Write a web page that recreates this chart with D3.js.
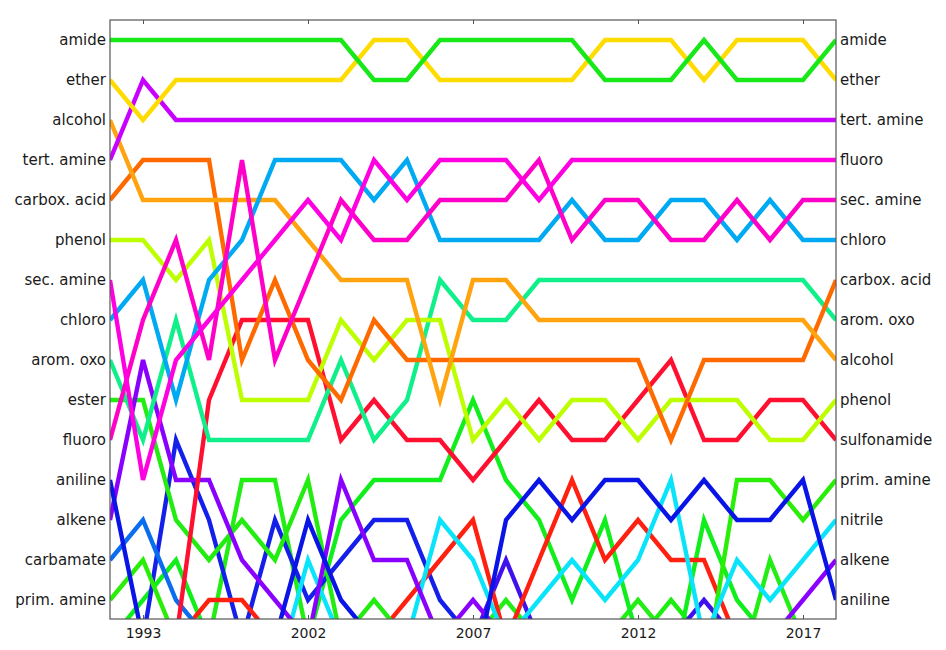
<!DOCTYPE html>
<html>
<head>
<meta charset="utf-8">
<script src="https://cdn.jsdelivr.net/npm/d3@7"></script>
<style>
    body { margin: 0; background: #ffffff; }
    svg text { font-family: "DejaVu Sans", sans-serif; fill: #1a1a1a; }
</style>
</head>
<body>
<svg id="svg-bump"></svg>
<script>
/* Functional group ranking per period (bump chart) */

// Periods along the x axis, only some of them get a tick label
const periods = ['1992', '1993', '1995', '1997', '1998', '2000', '2002', '2003', '2004', '2005', '2006',
    '2007', '2008', '2009', '2010', '2011', '2012', '2013', '2014', '2015', '2016', '2017', '2018'];
const tickYears = ['1993', '2002', '2007', '2012', '2017'];

// Rank labels on both sides (rank 1 at top)
const leftLabels = ['amide', 'ether', 'alcohol', 'tert. amine', 'carbox. acid', 'phenol', 'sec. amine',
    'chloro', 'arom. oxo', 'ester', 'fluoro', 'aniline', 'alkene', 'carbamate', 'prim. amine'];
const rightLabels = ['amide', 'ether', 'tert. amine', 'fluoro', 'sec. amine', 'chloro', 'carbox. acid',
    'arom. oxo', 'alcohol', 'phenol', 'sulfonamide', 'prim. amine', 'nitrile', 'alkene', 'aniline'];

// Ranks per period (values above 15 fall below the plot)
const amide       = [1, 1, 1, 1, 1, 1, 1, 1, 2, 2, 1, 1, 1, 1, 1, 2, 2, 2, 1, 2, 2, 2, 1];
const ether       = [2, 3, 2, 2, 2, 2, 2, 2, 1, 1, 2, 2, 2, 2, 2, 1, 1, 1, 2, 1, 1, 1, 2];
const alcohol     = [3, 5, 5, 5, 5, 5, 6, 7, 7, 7, 10, 7, 7, 8, 8, 8, 8, 8, 8, 8, 8, 8, 9];
const tertAmine   = [4, 2, 3, 3, 3, 3, 3, 3, 3, 3, 3, 3, 3, 3, 3, 3, 3, 3, 3, 3, 3, 3, 3];
const carboxAcid  = [5, 4, 4, 4, 9, 7, 9, 10, 8, 9, 9, 9, 9, 9, 9, 9, 9, 11, 9, 9, 9, 9, 7];
const phenol      = [6, 6, 7, 6, 10, 10, 10, 8, 9, 8, 8, 11, 10, 11, 10, 10, 11, 10, 10, 10, 11, 11, 10];
const secAmine    = [7, 12, 9, 8, 7, 6, 5, 6, 4, 5, 4, 4, 4, 5, 4, 4, 4, 4, 4, 4, 4, 4, 4];
const chloro      = [8, 7, 10, 7, 6, 4, 4, 4, 5, 4, 6, 6, 6, 6, 5, 6, 6, 5, 5, 6, 5, 6, 6];
const aromOxo     = [9, 11, 8, 11, 11, 11, 11, 9, 11, 10, 7, 8, 8, 7, 7, 7, 7, 7, 7, 7, 7, 7, 8];
const ester       = [10, 10, 13, 14, 13, 14, 12, 16, 15, 16, 17, 17, 17, 17, 17, 17, 17, 17, 17, 17, 17, 17, 17];
const fluoro      = [11, 8, 6, 9, 4, 9, 7, 5, 6, 6, 5, 5, 5, 4, 6, 5, 5, 6, 6, 5, 6, 5, 5];
const aniline     = [12, 16, 17, 17, 17, 16, 13, 15, 16, 17, 17, 17, 13, 12, 13, 12, 12, 13, 12, 13, 13, 12, 15];
const alkene      = [13, 9, 12, 12, 14, 15, 16, 12, 14, 14, 16, 15, 16, 17, 17, 17, 17, 17, 17, 17, 16, 15, 14];
const carbamate   = [14, 13, 15, 16, 17, 17, 17, 17, 17, 17, 17, 17, 17, 17, 17, 17, 17, 17, 17, 17, 17, 17, 17];
const primAmine   = [15, 14, 16, 17, 17, 17, 17, 17, 17, 17, 17, 17, 17, 17, 17, 17, 17, 17, 17, 12, 12, 13, 12];
const sulfonamide = [18, 17, 16, 10, 8, 8, 8, 11, 10, 11, 11, 12, 11, 10, 11, 11, 10, 9, 11, 11, 10, 10, 11];
const nitrile     = [18, 18, 18, 18, 18, 17, 14, 16, 17, 16, 13, 14, 16, 15, 14, 15, 14, 12, 16, 14, 15, 14, 13];
const otherRed    = [18, 17, 16, 15, 15, 16, 17, 17, 16, 15, 14, 13, 16, 14, 12, 14, 13, 14, 14, 16, 17, 17, 17];
const otherBlue   = [17, 16, 11, 13, 16, 13, 15, 14, 13, 13, 15, 16, 17, 17, 17, 17, 17, 17, 17, 17, 17, 17, 17];
const otherIndigo = [18, 18, 18, 18, 18, 18, 18, 18, 18, 18, 17, 16, 14, 16, 17, 17, 17, 16, 15, 16, 17, 17, 17];
const otherGreenA = [16, 15, 14, 16, 17, 17, 16, 13, 12, 12, 12, 10, 12, 13, 15, 13, 16, 17, 13, 15, 16, 17, 17];
const otherGreenB = [17, 17, 17, 16, 12, 12, 16, 17, 17, 17, 17, 16, 15, 16, 17, 16, 15, 16, 17, 17, 14, 16, 17];
const otherGreenC = [18, 18, 18, 18, 18, 18, 18, 18, 18, 18, 18, 18, 18, 18, 18, 17, 16, 15, 16, 17, 17, 17, 17];

(function() {
    'use strict';

    const width = 946;
    const height = 650;
    const plot = { left: 110, right: 836, top: 20, bottom: 619 };

    // line colours, keyed like the series list below
    const colors = {
        amide: '#18e818', ether: '#ffdc00', alcohol: '#ffa30f', tertAmine: '#c800ff',
        carboxAcid: '#ff6a00', phenol: '#bdff00', secAmine: '#ff00e0', chloro: '#00aaf2',
        aromOxo: '#10f08a', ester: '#22ec10', fluoro: '#ff00c8', aniline: '#0a14e6',
        alkene: '#8a00ff', carbamate: '#0a6cee', primAmine: '#2aee08', sulfonamide: '#ff1030',
        nitrile: '#0ae4fa', otherRed: '#ff2010', otherBlue: '#1420ea', otherIndigo: '#4010ee',
        otherGreenA: '#10ee1c', otherGreenB: '#22ee14', otherGreenC: '#1cee10'
    };

    const series = [
        ['otherGreenC', otherGreenC], ['otherGreenB', otherGreenB], ['otherGreenA', otherGreenA],
        ['otherIndigo', otherIndigo], ['otherBlue', otherBlue], ['otherRed', otherRed],
        ['carbamate', carbamate], ['primAmine', primAmine], ['ester', ester], ['nitrile', nitrile],
        ['alkene', alkene], ['aniline', aniline], ['sulfonamide', sulfonamide], ['aromOxo', aromOxo],
        ['phenol', phenol], ['carboxAcid', carboxAcid], ['alcohol', alcohol], ['chloro', chloro],
        ['fluoro', fluoro], ['secAmine', secAmine], ['tertAmine', tertAmine], ['ether', ether],
        ['amide', amide]
    ].map(([key, ranks]) => ({ key, ranks }));

    const svg = d3.select('#svg-bump')
        .attr('width', width)
        .attr('height', height);

    // Scales
    const xScale = d3.scalePoint()
        .domain(periods)
        .range([plot.left, plot.right]);

    const yScale = d3.scaleLinear()
        .domain([0.5, 15.5])
        .range([20, 620]);

    svg.append('clipPath')
        .attr('id', 'plot-clip')
        .append('rect')
        .attr('x', plot.left)
        .attr('y', plot.top)
        .attr('width', plot.right - plot.left)
        .attr('height', plot.bottom - plot.top);

    const line = d3.line()
        .x((d, i) => xScale(periods[i]))
        .y(d => yScale(d));

    // Draw lines
    svg.append('g')
        .attr('clip-path', 'url(#plot-clip)')
        .selectAll('path')
        .data(series)
        .enter()
        .append('path')
        .attr('fill', 'none')
        .attr('stroke', d => colors[d.key])
        .attr('stroke-width', 4.4)
        .attr('stroke-linejoin', 'miter')
        .attr('d', d => line(d.ranks));

    // Frame
    svg.append('rect')
        .attr('x', plot.left)
        .attr('y', plot.top)
        .attr('width', plot.right - plot.left)
        .attr('height', plot.bottom - plot.top)
        .attr('fill', 'none')
        .attr('stroke', '#555')
        .attr('stroke-width', 1.2);

    // Bottom axis with labels, inward ticks
    const xAxis = svg.append('g')
        .attr('transform', `translate(0, ${plot.bottom})`)
        .call(d3.axisBottom(xScale).tickValues(tickYears).tickSizeInner(-4).tickSizeOuter(0).tickPadding(9));
    xAxis.select('.domain').remove();
    xAxis.selectAll('line').attr('stroke', '#555');
    xAxis.selectAll('text')
        .style('font-family', '"DejaVu Sans", sans-serif')
        .style('font-size', '14px')
        .attr('fill', '#1a1a1a');

    // Top ticks
    const xTop = svg.append('g')
        .attr('transform', `translate(0, ${plot.top})`)
        .call(d3.axisTop(xScale).tickValues(tickYears).tickSizeInner(-4).tickSizeOuter(0).tickFormat(''));
    xTop.select('.domain').remove();
    xTop.selectAll('line').attr('stroke', '#555');

    // Rank labels, left and right
    svg.append('g')
        .selectAll('text')
        .data(leftLabels)
        .enter()
        .append('text')
        .attr('x', plot.left - 4)
        .attr('y', (d, i) => yScale(i + 1))
        .attr('dy', '0.35em')
        .attr('text-anchor', 'end')
        .style('font-size', '15px')
        .text(d => d);

    svg.append('g')
        .selectAll('text')
        .data(rightLabels)
        .enter()
        .append('text')
        .attr('x', plot.right + 4)
        .attr('y', (d, i) => yScale(i + 1))
        .attr('dy', '0.35em')
        .attr('text-anchor', 'start')
        .style('font-size', '15px')
        .text(d => d);

})();
</script>
</body>
</html>
